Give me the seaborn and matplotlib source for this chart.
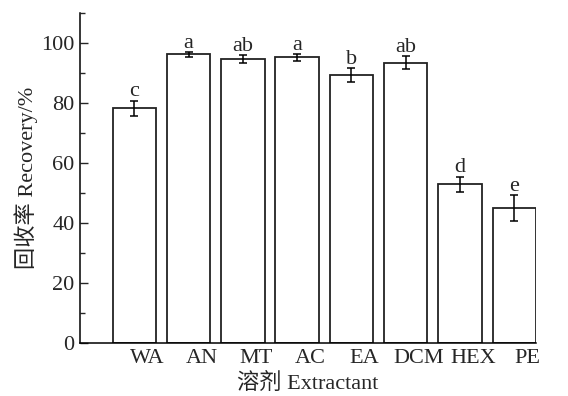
import matplotlib
matplotlib.use("Agg")
import matplotlib.pyplot as plt
import seaborn as sns
import pandas as pd
from matplotlib.ticker import MultipleLocator
import matplotlib.transforms as mtransforms

solvents = ["WA", "AN", "MT", "AC", "EA", "DCM", "HEX", "PE"]
recovery = [78.2, 96.2, 94.5, 95.1, 89.2, 93.3, 52.8, 44.9]
errors = [2.5, 0.8, 1.4, 1.1, 2.4, 2.2, 2.6, 4.4]
letters = ["c", "a", "ab", "a", "b", "ab", "d", "e"]

df = pd.DataFrame({"solvent": solvents, "recovery": recovery})

sns.set_style("ticks")
plt.rcParams["font.family"] = ["Liberation Serif", "Noto Sans CJK SC"]

fig = plt.figure(figsize=(5.68, 3.96), dpi=100)
ax = fig.add_axes([80 / 568, (396 - 343) / 396, (536 - 80) / 568, (343 - 12.7) / 396])

sns.barplot(data=df, x="solvent", y="recovery", order=solvents, color="white",
            edgecolor="#222222", linewidth=1.3, width=0.8, errorbar=None, ax=ax)
ax.errorbar(range(len(solvents)), recovery, yerr=errors, fmt="none",
            ecolor="black", elinewidth=1.1, capsize=3, capthick=1.1)

for i, (v, e, l) in enumerate(zip(recovery, errors, letters)):
    ax.text(i, v + e + 1.4, l, ha="center", va="baseline", fontsize=16)

ax.set_xlim(-1, 7.4)
ax.set_ylim(0, 110)
ax.yaxis.set_major_locator(MultipleLocator(20))
ax.yaxis.set_minor_locator(MultipleLocator(10))
ax.set_yticks([0, 20, 40, 60, 80, 100])
ax.tick_params(axis="y", which="major", direction="in", length=6, width=1, labelsize=16, pad=4)
ax.tick_params(axis="y", which="minor", direction="in", length=3.5, width=1)
ax.tick_params(axis="x", length=0, labelsize=16, pad=4)

# tick labels shifted slightly right as in reference
offset = mtransforms.ScaledTranslation(13 / 100, 0, fig.dpi_scale_trans)
for lab in ax.get_xticklabels():
    lab.set_transform(lab.get_transform() + offset)

for s in ["top", "right"]:
    ax.spines[s].set_visible(False)
for s in ["left", "bottom"]:
    ax.spines[s].set_linewidth(1.1)
    ax.spines[s].set_color("black")

ax.set_xlabel("溶剂 Extractant", fontsize=16, labelpad=4)
ax.set_ylabel("回收率 Recovery/%", fontsize=16, labelpad=2)

fig.savefig("out.png", dpi=100)
